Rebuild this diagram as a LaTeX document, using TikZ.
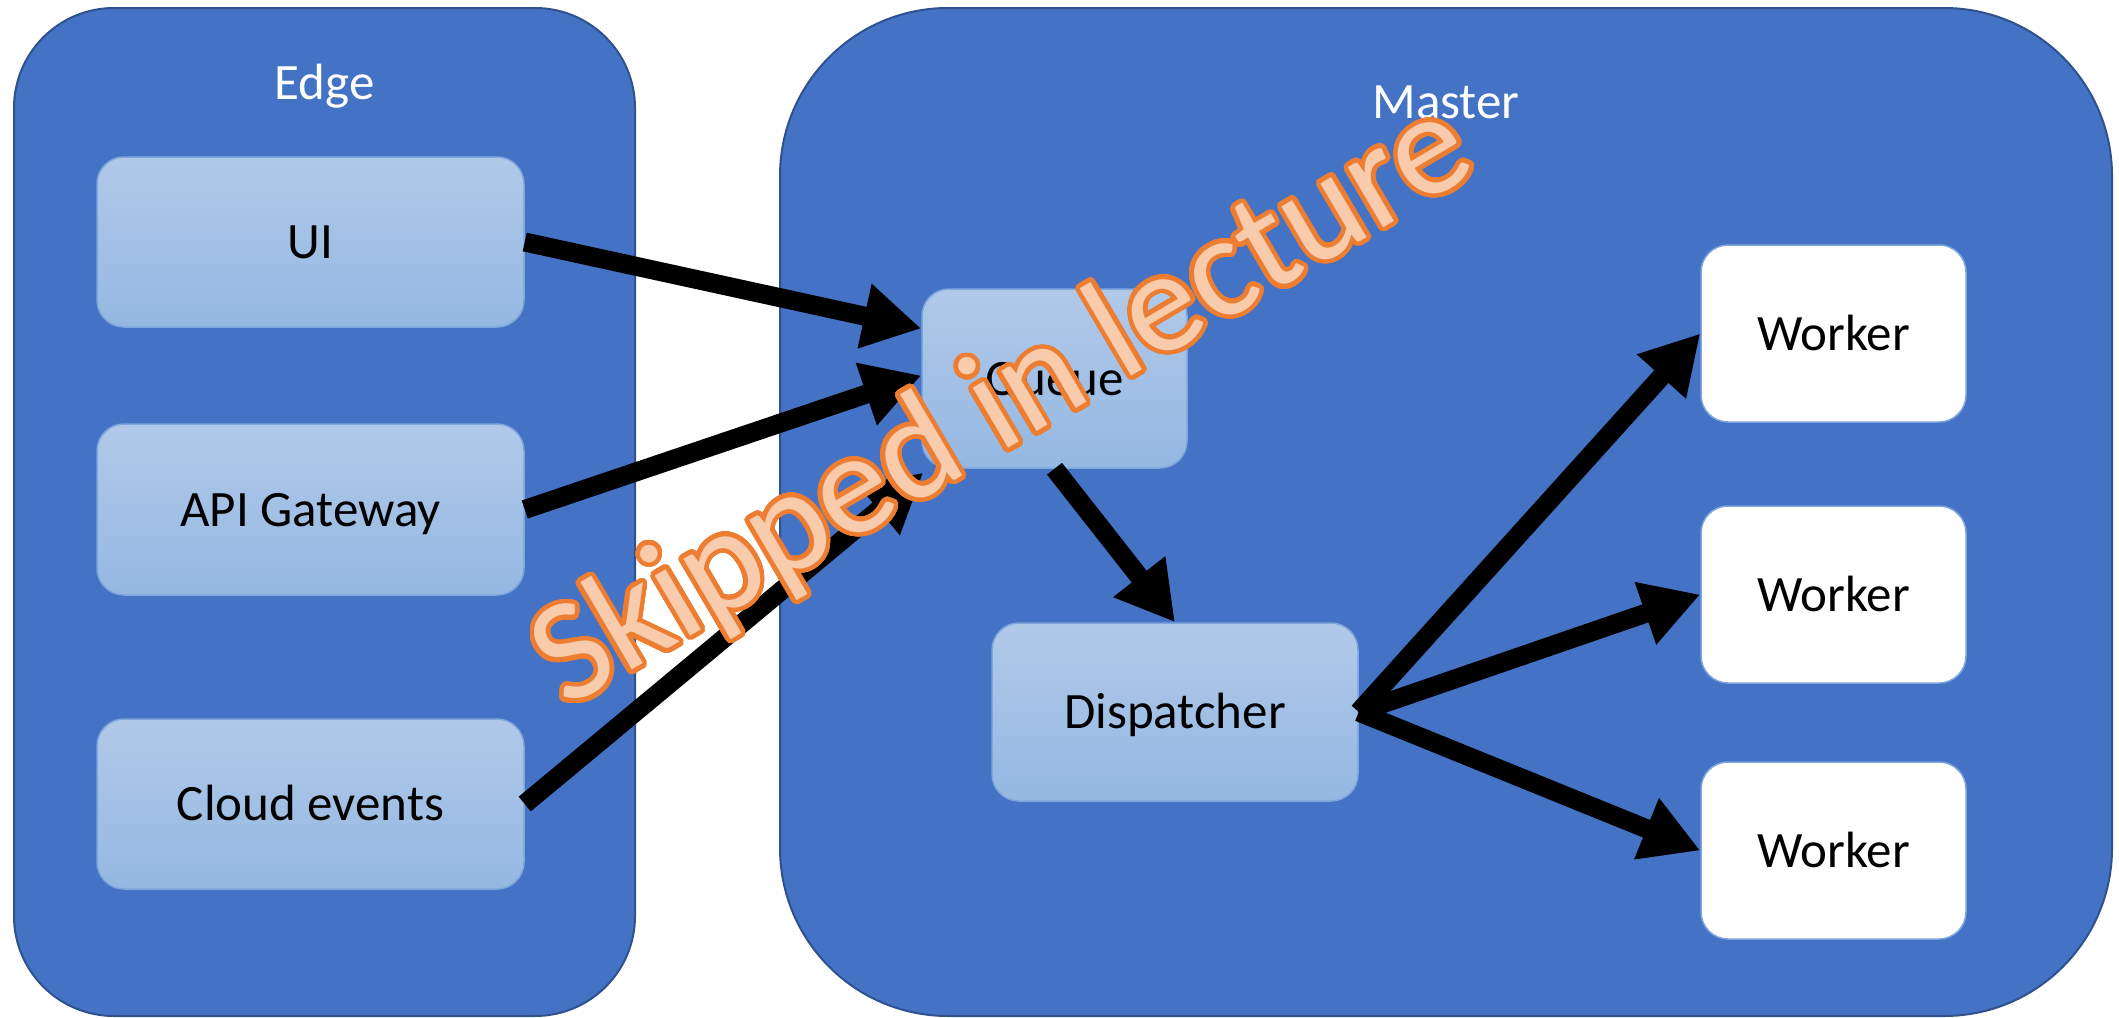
\documentclass[tikz,border=0pt]{standalone}
\usepackage{fontspec}
\setmainfont{Carlito}
\usepackage{contour}
\usetikzlibrary{arrows.meta,calc}
\definecolor{cont}{RGB}{68,114,196}
\definecolor{contline}{RGB}{47,82,143}
\definecolor{ntop}{RGB}{177,201,233}
\definecolor{nbot}{RGB}{148,184,226}
\definecolor{nline}{RGB}{125,166,220}
\definecolor{wmfill}{RGB}{248,203,173}
\definecolor{wmline}{RGB}{237,125,49}
\contourlength{4.5pt}
\contournumber{48}
\begin{document}
\begin{tikzpicture}[x=1pt,y=-1pt,
  container/.style={draw=contline, line width=2pt, fill=cont, inner sep=0pt},
  grp/.style={font=\fontsize{51}{60}\selectfont, text=white, anchor=base, inner sep=0pt},
  basebox/.style={rounded corners=27pt, draw=nline, line width=1.5pt, font=\fontsize{51}{60}\selectfont, text height=33pt, text depth=0pt, inner sep=0pt, align=center},
  box/.style={basebox, top color=ntop, bottom color=nbot},
  worker/.style={basebox, fill=white, minimum width=265pt, minimum height=177pt},
  flow/.style={line width=19pt, -{Triangle[length=58pt,width=62pt]}},
]
\useasboundingbox (0,0) rectangle (2119,1017);
% containers
\node[container, rounded corners=100pt, minimum width=621pt, minimum height=1008pt] (edge) at (324.5,512) {};
\node[container, rounded corners=168pt, minimum width=1332pt, minimum height=1008pt] (master) at (1446,512) {};
\node[grp] (edgelbl) at (324.5,99) {Edge};
\node[grp] (masterlbl) at (1446,118) {Master};
% edge nodes
\node[box, minimum width=427pt, minimum height=170pt] (ui) at (310.5,242) {UI};
\node[box, minimum width=427pt, minimum height=171pt] (api) at (310.5,509.5) {API Gateway};
\node[box, minimum width=427pt, minimum height=170pt] (cloud) at (310.5,804) {Cloud events};
% master nodes
\node[box, minimum width=265pt, minimum height=179pt] (q) at (1054.5,378.5) {Queue};
\node[box, minimum width=366pt, minimum height=178pt] (d) at (1175,712) {Dispatcher};
\node[worker] (w1) at (1833.5,333.5) {Worker};
\node[worker] (w2) at (1833.5,594.5) {Worker};
\node[worker] (w3) at (1833.5,850.5) {Worker};
% connectors
\draw[flow] (ui.east) -- ([yshift=50pt]q.west);
\draw[flow] (api.east) -- ([yshift=3pt]q.west);
\draw[flow] (cloud.east) -- ([xshift=2pt,yshift=-4pt]q.south west);
\draw[flow] (q.south) -- (d.north);
\draw[flow] (d.east) -- (w1.west);
\draw[flow] (d.east) -- (w2.west);
\draw[flow] (d.east) -- (w3.west);
% watermark
\node[rotate=30.5, font=\fontsize{146}{160}\selectfont, text=wmfill, inner sep=0pt] (wm) at (1005,408) {\contour{wmline}{Skipped in lecture}};
\end{tikzpicture}
\end{document}
